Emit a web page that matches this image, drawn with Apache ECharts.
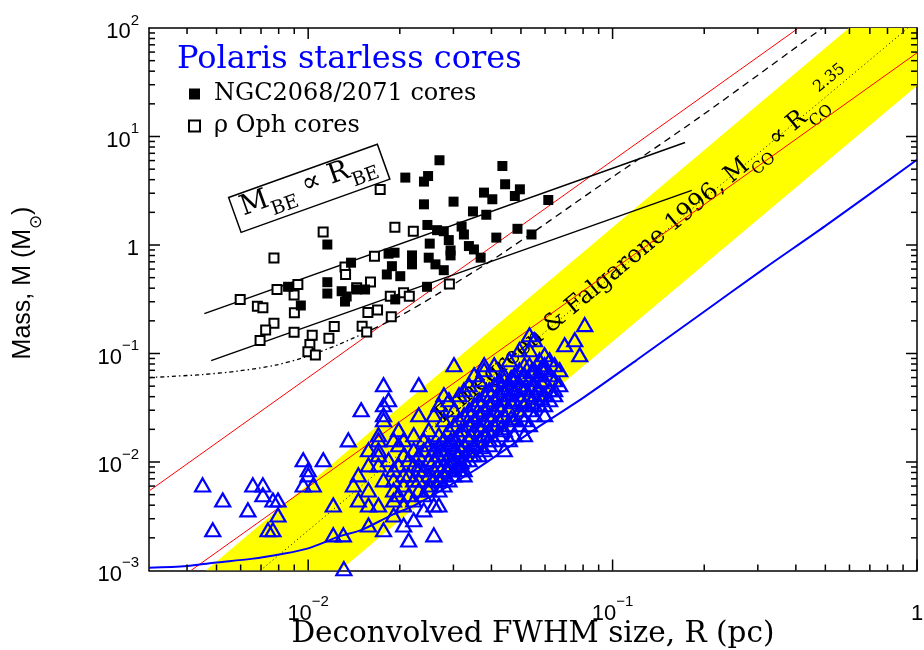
<!DOCTYPE html>
<html><head><meta charset="utf-8">
<script src="https://cdn.jsdelivr.net/npm/echarts@6/dist/echarts.min.js"></script>
<style>html,body{margin:0;padding:0;background:#fff}#c{width:924px;height:650px}</style>
</head><body><div id="c"></div>
<script>
// ---- axis ranges & ticks ----
const xRange = [0.003, 1];
const yRange = [0.001, 100];
const xMajorTicks = [0.01, 0.1, 1];
const xMinorTicks = [0.004,0.005,0.006,0.007,0.008,0.009,0.02,0.03,0.04,0.05,0.06,0.07,0.08,0.09,0.2,0.3,0.4,0.5,0.6,0.7,0.8,0.9];
const yMajorTicks = [0.01, 0.1, 1, 10];
const yMinorTicks = [0.002,0.003,0.004,0.005,0.006,0.007,0.008,0.009,0.02,0.03,0.04,0.05,0.06,0.07,0.08,0.09,
  0.2,0.3,0.4,0.5,0.6,0.7,0.8,0.9,2,3,4,5,6,7,8,9,20,30,40,50,60,70,80,90];

// ---- NGC2068/2071 cores [R pc, M Msun] ----
const ngcCores = [[0.0270,6.04],[0.02085,4.18],[0.02477,4.32],[0.02401,3.84],[0.04345,5.35],[0.04436,3.63],[0.0496,3.26],[0.04775,2.83],[0.03781,3.04],[0.04027,2.64],[0.03003,2.51],[0.02401,2.37],[0.06149,2.60],[0.03478,2.04],[0.03847,1.90],[0.02464,1.53],[0.02651,1.37],[0.02789,1.34],[0.03192,1.48],[0.03248,1.25],[0.02897,1.11],[0.02508,1.03],[0.0487,1.41],[0.05416,1.25],[0.0415,1.17],[0.03373,0.978],[0.03504,0.910],[0.03686,0.764],[0.02936,0.802],[0.02936,0.891],[0.02489,0.764],[0.02619,0.663],[0.02789,0.586],[0.02193,0.802],[0.02193,0.663],[0.01922,0.849],[0.01837,0.832],[0.01884,0.638],[0.01813,0.535],[0.02007,0.516],[0.02457,0.412],[0.01932,0.315],[0.01156,1.01],[0.01383,0.687],[0.01156,0.454],[0.01156,0.357],[0.01288,0.375],[0.01338,0.335],[0.01321,0.301],[0.01443,0.389],[0.01538,0.389],[0.00859,0.412],[0.00946,0.277]];

// ---- rho Oph cores ----
const ophCores = [[0.0112,1.32],[0.00772,0.757],[0.01651,0.789],[0.01321,0.628],[0.01327,0.535],[0.01602,0.456],[0.01443,0.404],[0.00925,0.433],[0.0079,0.389],[0.00899,0.346],[0.00598,0.315],[0.00681,0.273],[0.0071,0.264],[0.00901,0.237],[0.01571,0.239],[0.0169,0.252],[0.01861,0.337],[0.02058,0.363],[0.02149,0.337],[0.01875,0.218],[0.00772,0.190],[0.00725,0.165],[0.00695,0.132],[0.00899,0.157],[0.01218,0.177],[0.01504,0.178],[0.01557,0.158],[0.01031,0.147],[0.0117,0.138],[0.01013,0.121],[0.00998,0.104],[0.01056,0.097],[0.01724,3.24],[0.01927,1.46],[0.02215,1.34],[0.0291,0.438]];

// ---- Polaris starless cores ----
const polarisSparse = [[0.0045,0.00615],[0.00524,0.00447],[0.00634,0.00362],[0.00486,0.00237],[0.00658,0.00615],[0.0071,0.00615],[0.0071,0.00498],[0.00766,0.00447],[0.00796,0.00447],[0.00796,0.00325],[0.00738,0.00237],[0.00766,0.00237],
[0.00963,0.0105],[0.01,0.00847],[0.01,0.00761],[0.00963,0.00615],[0.01039,0.00615],[0.01121,0.0105],[0.01355,0.016],[0.01493,0.0303],[0.01209,0.00402],[0.01209,0.00213],[0.01305,0.00213],[0.0131,0.00104],[0.01578,0.00263],[0.01578,0.01295],[0.01702,0.0178],[0.01702,0.01295],[0.01768,0.0516],[0.01768,0.0337],[0.01768,0.0273],[0.01578,0.00941],[0.01462,0.00761],[0.01408,0.00615],[0.01462,0.00447],[0.01578,0.00553],[0.01578,0.00402],[0.01702,0.00941],[0.01768,0.00684],[0.01702,0.00402],
[0.02308,0.0516],[0.01837,0.0375],[0.01768,0.0245],[0.01982,0.0198],[0.02308,0.0273],[0.01702,0.016],[0.01702,0.01164],
[0.01768,0.00237],[0.01908,0.00325],[0.02059,0.00263],[0.02222,0.00293],[0.02139,0.00191],[0.02587,0.00213],[0.02587,0.00402],[0.02398,0.00362],[0.01908,0.00447],[0.01908,0.00684],[0.02059,0.00761],[0.01837,0.0105],[0.02059,0.01164],[0.02222,0.01295],[0.02222,0.0178],[0.02398,0.016],[0.02491,0.0198],[0.02688,0.0178],[0.02587,0.0105],[0.02308,0.00847],[0.02491,0.00615],[0.02688,0.00684],[0.02792,0.00941],[0.03013,0.0105],[0.029,0.0144],[0.0313,0.00941],[0.03251,0.00847],
[0.03013,0.0789],[0.03786,0.0789],[0.03508,0.0638],[0.05333,0.149],[0.0554,0.134],[0.081,0.1845],[0.0696,0.1206],[0.0751,0.134],[0.078,0.0975],[0.0645,0.0464],[0.0598,0.0789],
[0.02688,0.00402],[0.029,0.00684],[0.03251,0.00761],[0.04408,0.01295],[0.03933,0.0144],[0.05133,0.0178],[0.05978,0.02725],[0.0554,0.0337],[0.03786,0.0709],[0.04408,0.0573],[0.04757,0.0638],[0.05133,0.0789],[0.05333,0.1085],[0.05978,0.0709]];
const polarisDense = [[.02308,.01164],[.02308,.00941],[.02308,.00684],[.02308,.00553],
[.02398,.01295],[.02398,.00847],[.02398,.00498],
[.02491,.0144],[.02491,.01047],[.02491,.00761],[.02491,.00553],
[.02587,.01295],[.02587,.00847],[.02587,.00684],
[.02688,.0144],[.02688,.01164],[.02688,.00941],[.02688,.00553],
[.02792,.01602],[.02792,.01295],[.02792,.00761],[.02792,.00615],
[.029,.01981],[.029,.01164],[.029,.00941],[.029,.00847],
[.03013,.02203],[.03013,.01602],[.03013,.01295],[.03013,.00847],[.03013,.00761],
[.0313,.0245],[.0313,.01781],[.0313,.0144],[.0313,.01164],[.0313,.00847],
[.03251,.02725],[.03251,.01981],[.03251,.0144],[.03251,.01047],
[.03377,.0303],[.03377,.02203],[.03377,.01602],[.03377,.01295],[.03377,.01047],
[.03508,.0337],[.03508,.0245],[.03508,.01981],[.03508,.0144],[.03508,.01164],
[.03644,.03748],[.03644,.02725],[.03644,.02203],[.03644,.01602],[.03644,.01164],
[.03786,.04168],[.03786,.0303],[.03786,.0245],[.03786,.01781],[.03786,.01295],
[.03933,.04636],[.03933,.0337],[.03933,.02725],[.03933,.01981],[.03933,.01602],
[.04085,.05156],[.04085,.03748],[.04085,.0303],[.04085,.02203],[.04085,.01602],
[.04244,.05733],[.04244,.04168],[.04244,.0337],[.04244,.0245],[.04244,.01781],
[.04408,.06376],[.04408,.04636],[.04408,.03748],[.04408,.02725],[.04408,.01981],
[.04579,.05156],[.04579,.04168],[.04579,.0303],[.04579,.02203],[.04579,.01602],
[.04757,.05733],[.04757,.04636],[.04757,.03748],[.04757,.0245],[.04757,.01781],
[.04942,.07091],[.04942,.05156],[.04942,.04168],[.04942,.0303],[.04942,.02203],
[.05133,.06376],[.05133,.04636],[.05133,.0337],[.05133,.0245],
[.05333,.07886],[.05333,.05733],[.05333,.04168],[.05333,.0303],[.05333,.02203],
[.0554,.07091],[.0554,.05156],[.0554,.04168],[.0554,.02725],
[.05755,.0877],[.05755,.06376],[.05755,.04636],[.05755,.0337],
[.05978,.09754],[.05978,.05733],[.05978,.04168],[.05978,.0337],
[.0621,.0877],[.0621,.06376],[.0621,.04636],[.0621,.03748],
[.06451,.07886],[.06451,.05733],[.06451,.04168],
[.06701,.07091],[.06701,.05156],
[.01908,.01602],[.01908,.00847],[.01908,.00553],
[.01982,.0144],[.01982,.00941],[.01982,.00498],
[.02059,.01602],[.02059,.00615],[.02059,.00402],
[.02139,.01047],[.02139,.00761],[.02139,.00498],
[.02222,.00941],[.02222,.00684],[.02222,.00447],
[.02587,.02725],[.02688,.0337],[.02792,.0245],[.029,.03748],[.03013,.0303],[.0313,.04168],[.03251,.04636],[.03377,.05156],[.03644,.05733],[.04085,.07886],[.04579,.0877],[.04942,.1085],[.02792,.04168]];
const polarisCore = [[.02726,.01295],[.02726,.00847],[.02726,.00684],
[.02942,.01602],[.02942,.01047],
[.03176,.01981],[.03176,.01295],[.03176,.01004],
[.03426,.02725],[.03426,.01781],[.03426,.01164],
[.03696,.0337],[.03696,.01981],[.03696,.01382],
[.03988,.04168],[.03988,.0245],[.03988,.01781],
[.04302,.04843],[.04302,.0303],[.04302,.0207],
[.04642,.05993],[.04642,.03596],[.04642,.02559],
[.05008,.05993],[.05008,.03748],[.05008,.02725],
[.05403,.06806],[.05403,.04843],[.05403,.03596],
[.05829,.07411],[.05829,.05502],[.05829,.03915]];

// ---- model lines (end points / curve points) ----
const redLineHigh = [[0.003,0.0054],[0.408,100]];
const redLineLow = [[0.00412,0.001],[1,59]];
const beLineUpper = [[0.00456,0.233],[0.173,8.81]];
const beLineLower = [[0.0048,0.0859],[0.182,3.19]];
const efDotted = [[0.00697,0.001],[0.934,100]];
const efBand = [[0.00461,0.001],[0.5976,100],[1,100],[1,29.3],[0.01273,0.001]];
const blueCurve = [[0.003,0.00106],[0.004,0.00110],[0.0049,0.00118],[0.0065,0.00128],[0.0082,0.00142],[0.01,0.0016],[0.0126,0.00205],[0.015,0.00237],[0.0188,0.00324],[0.022,0.0039],[0.0275,0.00553],[0.035,0.0083],[0.0574,0.0213],[0.08,0.039],[0.12,0.087],[0.194,0.229],[0.313,0.60],[0.5,1.5],[1,6.1]];
const dashedCurve = [[0.003,0.060],[0.0045,0.064],[0.0059,0.069],[0.0078,0.078],[0.0098,0.093],[0.0125,0.12],[0.0162,0.166],[0.0205,0.23],[0.0269,0.36],[0.0424,0.80],[0.0906,3.5],[0.194,15.2],[0.489,100]];

// ---- annotation anchors (data coords) ----
const beLabelAt = [0.01008, 3.33];
const efLabelAt = [0.1275, 0.95];

const SERIF = "'DejaVu Serif', serif";
const SANS = "'Liberation Sans', Arial, sans-serif";

function powLabel(v) {
  const l = Math.log10(v), e = Math.round(l);
  if (Math.abs(l - e) > 1e-6) return '';
  if (e === 0) return '{b|1}';
  return '{b|10}{s|' + (e < 0 ? '\u2212' : '') + Math.abs(e) + '}';
}
const labelRich = {
  b: {fontSize: 22, fontFamily: SANS, color: '#000', lineHeight: 30, verticalAlign: 'bottom'},
  s: {fontSize: 15, fontFamily: SANS, color: '#000', lineHeight: 30, verticalAlign: 'top'}
};

const xTickData = xMajorTicks.map(v => [v, yRange[0], 11]).concat(xMinorTicks.map(v => [v, yRange[0], 6]));
const yTickData = yMajorTicks.map(v => [xRange[0], v, 11]).concat(yMinorTicks.map(v => [xRange[0], v, 6]));

const chart = echarts.init(document.getElementById('c'), null, {renderer: 'canvas'});
const frameLine = {show: true, onZero: false, lineStyle: {color: '#000', width: 1.5}};

function lineSeries(data, color, width, type, z) {
  return {type: 'line', data: data, xAxisIndex: 0, yAxisIndex: 0, symbol: 'none', silent: true, z: z || 3,
    lineStyle: {color: color, width: width, type: type || 'solid', opacity: 1}, clip: true};
}

chart.setOption({
  animation: false,
  backgroundColor: '#fff',
  title: {text: 'Polaris starless cores', left: 177, top: 44, padding: 0,
    textStyle: {color: '#0000ff', fontFamily: SERIF, fontSize: 32, fontWeight: 'normal'}},
  legend: {left: 188, top: 82, padding: 0, orient: 'vertical', itemWidth: 11, itemHeight: 11, itemGap: 8,
    textStyle: {fontFamily: SERIF, fontSize: 24, color: '#000', padding: [0, 0, 0, 9]},
    data: [
      {name: 'NGC2068/2071 cores', icon: 'rect', itemStyle: {color: '#000', borderWidth: 0, opacity: 1}},
      {name: '\u03c1 Oph cores', icon: 'rect', itemStyle: {color: '#fff', borderColor: '#000', borderWidth: 2, opacity: 1}}
    ]},
  grid: {left: 149, right: 7, top: 28, bottom: 79.5, outerBoundsMode: 'none', containLabel: false},
  xAxis: [
    {type: 'log', logBase: 10, min: xRange[0], max: xRange[1], position: 'bottom',
      axisLine: frameLine, axisTick: {show: false}, splitLine: {show: false},
      axisLabel: {formatter: powLabel, rich: labelRich, margin: 24, showMinLabel: true, showMaxLabel: true},
      name: 'Deconvolved FWHM size, R (pc)', nameLocation: 'middle', nameGap: 49, nameMoveOverlap: false,
      nameTextStyle: {fontFamily: SERIF, fontSize: 29.5, color: '#000'}},
    {type: 'log', logBase: 10, min: xRange[0], max: xRange[1], position: 'top',
      axisLine: frameLine, axisTick: {show: false}, splitLine: {show: false}, axisLabel: {show: false}}
  ],
  yAxis: [
    {type: 'log', logBase: 10, min: yRange[0], max: yRange[1], position: 'left',
      axisLine: frameLine, axisTick: {show: false}, splitLine: {show: false},
      axisLabel: {formatter: powLabel, rich: labelRich, margin: 10, showMinLabel: true, showMaxLabel: true}},
    {type: 'log', logBase: 10, min: yRange[0], max: yRange[1], position: 'right',
      axisLine: frameLine, axisTick: {show: false}, splitLine: {show: false}, axisLabel: {show: false}}
  ],
  graphic: [{
    type: 'text', x: 28, y: 283, rotation: Math.PI / 2,
    style: {text: '{b|Mass, M (M}{s|\u2299}{b|)}', align: 'center', verticalAlign: 'middle',
      rich: {
        b: {fontSize: 25, fontFamily: SANS, fill: '#000', lineHeight: 34, verticalAlign: 'top'},
        s: {fontSize: 17, fontFamily: SANS, fill: '#000', lineHeight: 34, verticalAlign: 'bottom'}
      }}
  }],
  series: [
    {type: 'custom', name: 'band', z: 1, clip: true, silent: true, data: [efBand[0]],
      renderItem: function (params, api) {
        const pts = efBand.map(p => api.coord(p));
        return {type: 'polygon', shape: {points: pts}, style: {fill: '#ffff00', stroke: 'none'}};
      }},
    {type: 'custom', name: 'efLabel', z: 2, silent: true, data: [efLabelAt],
      renderItem: function (params, api) {
        const c = api.coord([api.value(0), api.value(1)]);
        return {type: 'text', x: c[0], y: c[1], rotation: 0.693,
          style: {text: '{t|Elmegreen & Falgarone 1996, M}{s|CO}{t| \u221d R}{s|CO}{p|2.35}',
            align: 'center', verticalAlign: 'middle',
            rich: {
              t: {fontSize: 24, fontFamily: SERIF, fill: '#000', lineHeight: 40, verticalAlign: 'middle'},
              s: {fontSize: 16, fontFamily: SERIF, fill: '#000', lineHeight: 40, verticalAlign: 'bottom'},
              p: {fontSize: 16, fontFamily: SERIF, fill: '#000', lineHeight: 40, verticalAlign: 'top'}
            }}};
      }},
    lineSeries(redLineHigh, '#ff0000', 1),
    lineSeries(redLineLow, '#ff0000', 1),
    lineSeries(efDotted, '#000', 1, [1, 3]),
    lineSeries(beLineUpper, '#000', 1.5),
    lineSeries(beLineLower, '#000', 1.5),
    Object.assign(lineSeries(dashedCurve.slice(0, 7), '#000', 1.3, [4, 3, 1.5, 3]), {smooth: 0.3}),
    Object.assign(lineSeries(dashedCurve.slice(6), '#000', 1.3, [7, 5]), {smooth: 0.3}),
    Object.assign(lineSeries(blueCurve, '#0000ff', 2), {smooth: 0.3}),
    {type: 'scatter', name: 'Polaris starless cores', data: polarisSparse.concat(polarisDense, polarisCore), z: 5, silent: true,
      symbol: 'triangle', symbolSize: [15, 13],
      itemStyle: {color: 'rgba(0,0,0,0)', borderColor: '#0000ff', borderWidth: 2.2, opacity: 1}},
    {type: 'scatter', name: '\u03c1 Oph cores', data: ophCores, z: 5, silent: true,
      symbol: 'rect', symbolSize: 9,
      itemStyle: {color: '#fff', borderColor: '#000', borderWidth: 2, opacity: 1}},
    {type: 'scatter', name: 'NGC2068/2071 cores', data: ngcCores, z: 5, silent: true,
      symbol: 'rect', symbolSize: 10, itemStyle: {color: '#000', opacity: 1}},
    {type: 'custom', name: 'beLabel', z: 6, silent: true, data: [beLabelAt],
      renderItem: function (params, api) {
        const c = api.coord([api.value(0), api.value(1)]);
        return {type: 'group', x: c[0], y: c[1], rotation: 0.344, children: [
          {type: 'rect', shape: {x: -79, y: -18.5, width: 158, height: 37},
            style: {fill: '#fff', stroke: '#000', lineWidth: 1.5}},
          {type: 'text', x: 0, y: 0, style: {text: '{m|M}{s|BE}{m| \u221d R}{s|BE}', align: 'center', verticalAlign: 'middle',
            rich: {
              m: {fontSize: 28, fontFamily: SERIF, fill: '#000', lineHeight: 36, verticalAlign: 'top'},
              s: {fontSize: 19, fontFamily: SERIF, fill: '#000', lineHeight: 36, verticalAlign: 'bottom'}
            }}}
        ]};
      }},
    {type: 'custom', name: 'xticks', z: 10, silent: true, data: xTickData,
      renderItem: function (params, api) {
        const v = api.value(0), len = api.value(2);
        const b = api.coord([v, yRange[0]]), t = api.coord([v, yRange[1]]);
        return {type: 'group', children: [
          {type: 'line', shape: {x1: b[0], y1: b[1], x2: b[0], y2: b[1] - len}, style: {stroke: '#000', lineWidth: 1.5}},
          {type: 'line', shape: {x1: t[0], y1: t[1], x2: t[0], y2: t[1] + len}, style: {stroke: '#000', lineWidth: 1.5}}
        ]};
      }},
    {type: 'custom', name: 'yticks', z: 10, silent: true, data: yTickData,
      renderItem: function (params, api) {
        const v = api.value(1), len = api.value(2);
        const l = api.coord([xRange[0], v]), r = api.coord([xRange[1], v]);
        return {type: 'group', children: [
          {type: 'line', shape: {x1: l[0], y1: l[1], x2: l[0] + len, y2: l[1]}, style: {stroke: '#000', lineWidth: 1.5}},
          {type: 'line', shape: {x1: r[0], y1: r[1], x2: r[0] - len, y2: r[1]}, style: {stroke: '#000', lineWidth: 1.5}}
        ]};
      }}
  ]
});
</script>
</body></html>
